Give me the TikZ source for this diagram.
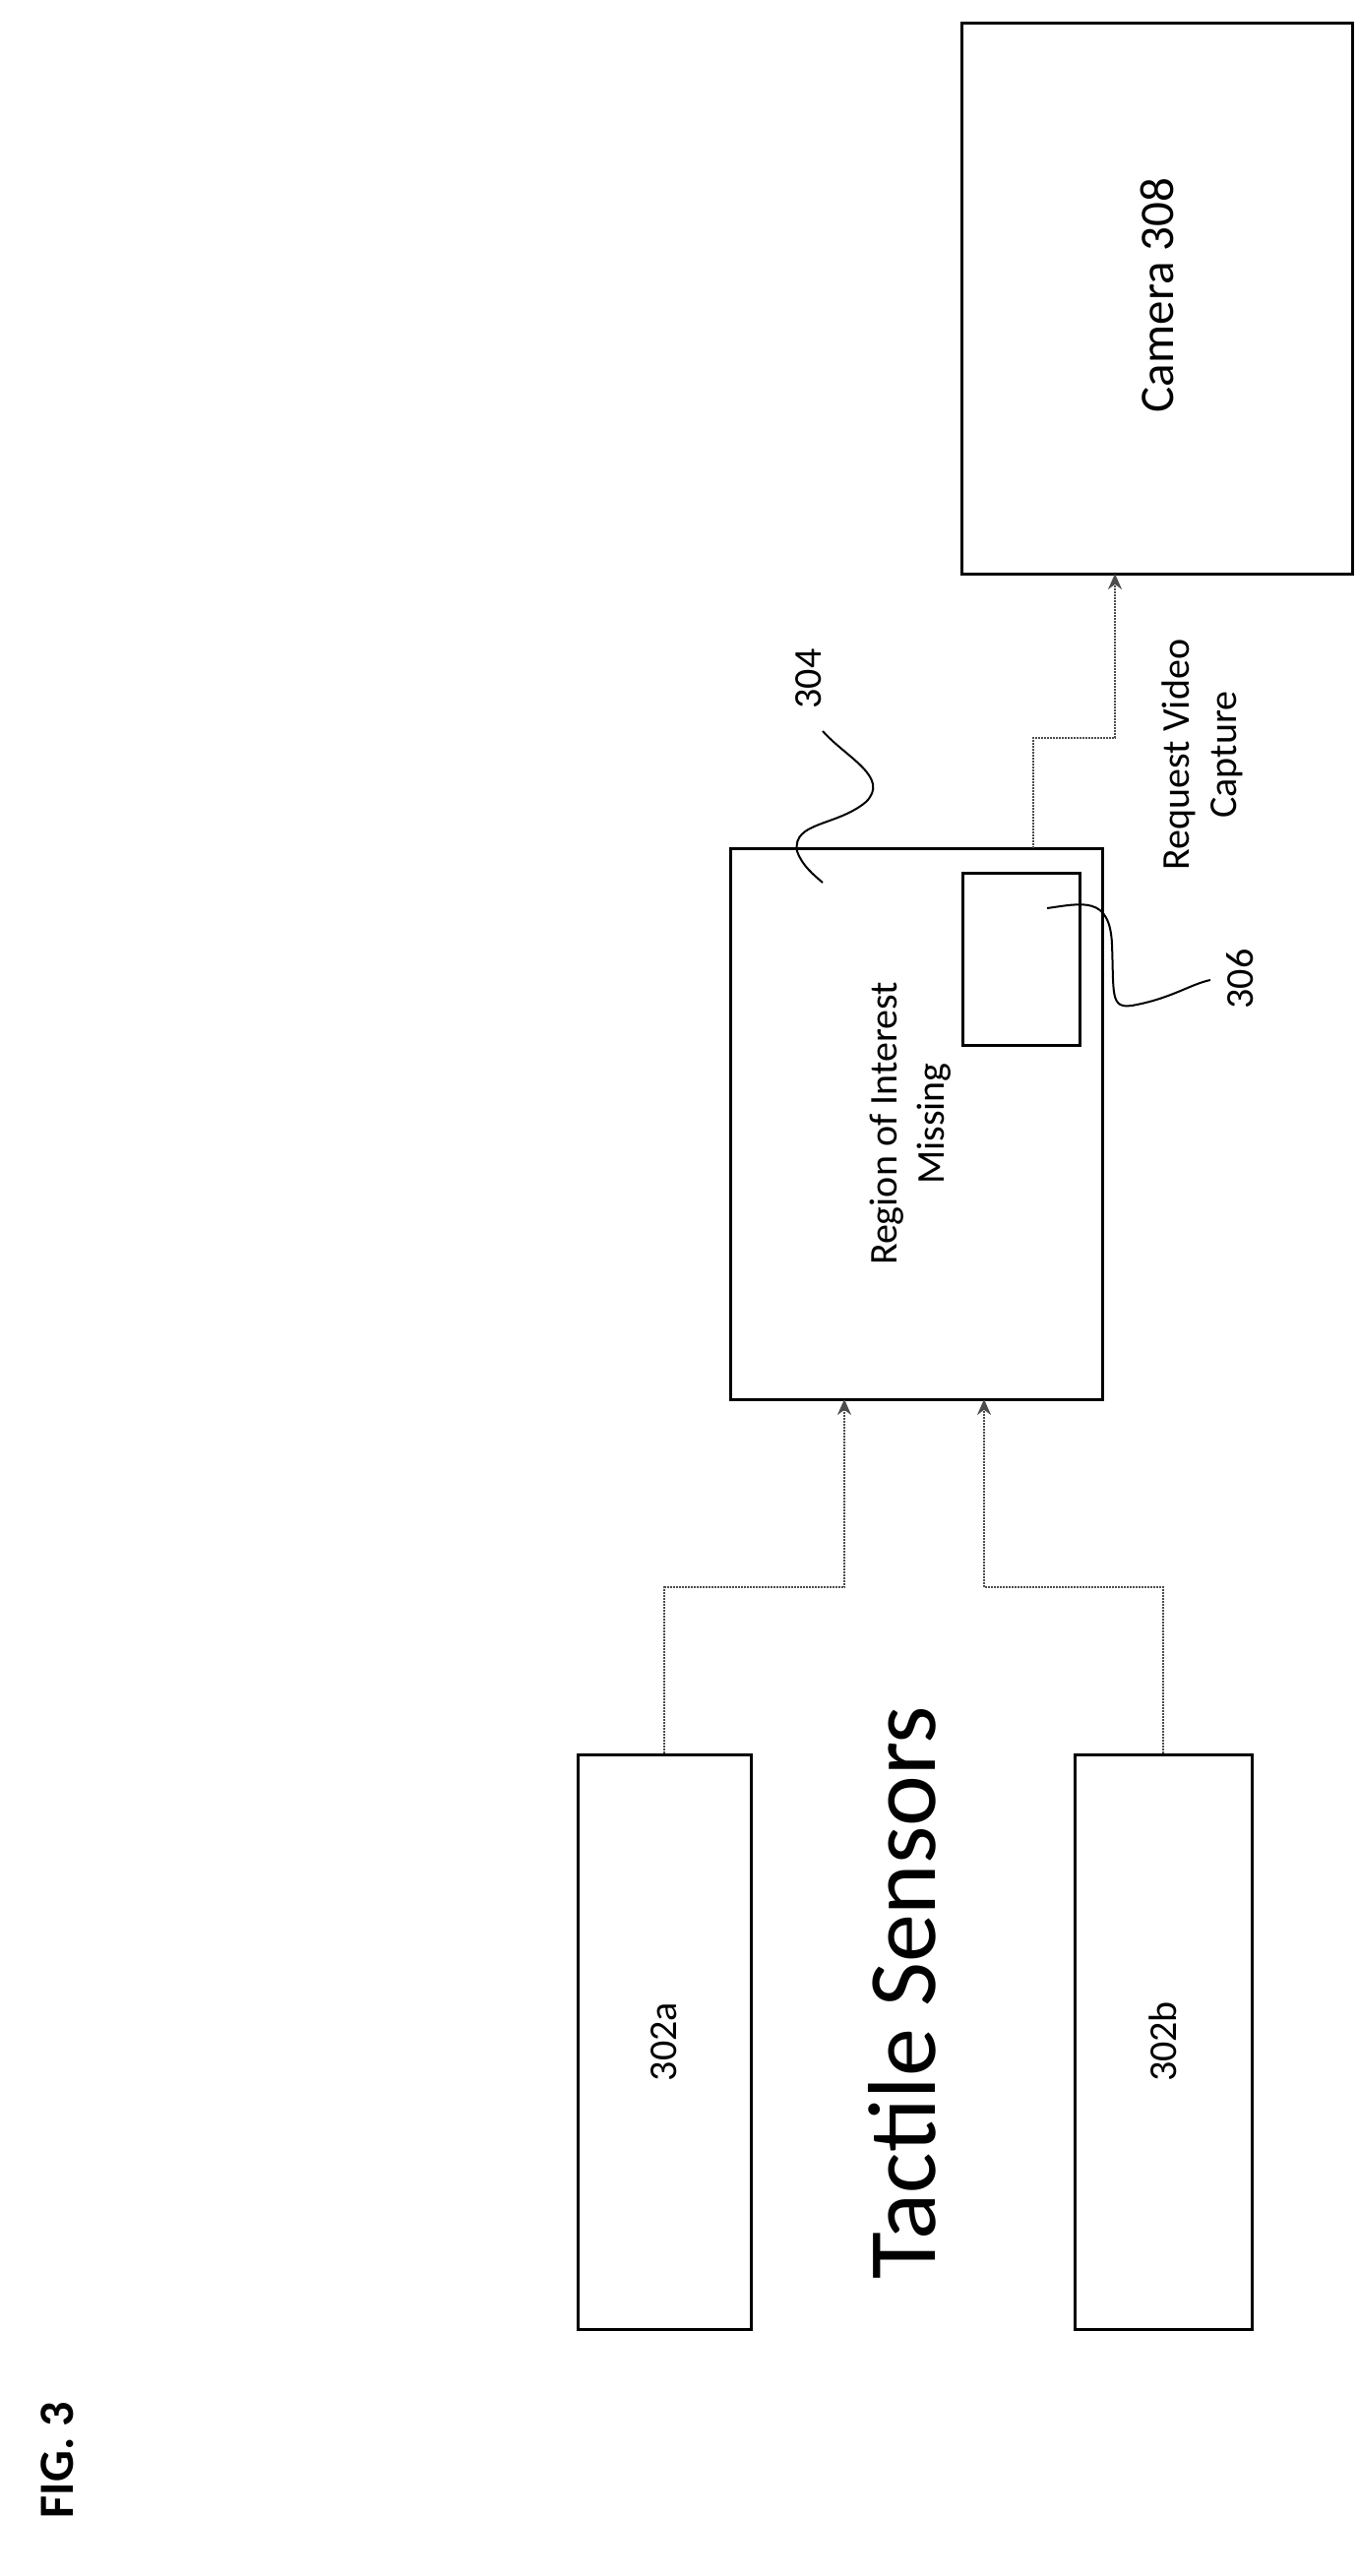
\documentclass[tikz,border=0pt]{standalone}
\usepackage{fontspec}
\setmainfont{Carlito}
\usetikzlibrary{arrows.meta}
\usetikzlibrary{positioning}
\begin{document}
\begin{tikzpicture}[x=1pt,y=-1pt]
\tikzset{
    boxNode/.style={
                   draw,
                   line width=3pt,
                   inner sep=0pt
    },
    textNode/.style={
                   rotate=90,
                   font=\fontsize{40}{48}\selectfont,
                   align=center
    },
    link/.style={
                   densely dotted,
                   line width=2pt,
                   draw=black!70
    },
    tip/.style={
                   -{Stealth[length=16pt,width=14pt]}
    }
}
    \useasboundingbox (0,0) rectangle (1380,2618);
    \node (cam)[boxNode, minimum width=397pt, minimum height=560pt] at (1176,303) {};
    \node (camT)[textNode, font=\fontsize{49}{58}\selectfont] at (1176,300) {Camera 308};
    \node (roi)[boxNode, minimum width=378pt, minimum height=560pt] at (931,1142) {};
    \node (roiT)[textNode] at (925,1142) {Region of Interest\\Missing};
    \node (sub)[boxNode, minimum width=119pt, minimum height=175pt] at (1038,975) {};
    \node (sa)[boxNode, minimum width=176pt, minimum height=584pt] at (675,2075) {};
    \node (saT)[textNode] at (675,2075) {302a};
    \node (sb)[boxNode, minimum width=180pt, minimum height=584pt] at (1182,2075) {};
    \node (sbT)[textNode] at (1182,2075) {302b};
    \node (tact)[textNode, font=\fontsize{98}{110}\selectfont] at (917,2025) {Tactile Sensors};
    \node (fig)[textNode, font=\bfseries\fontsize{50}{60}\selectfont] at (58,2500) {FIG. 3};
    \node (req)[textNode] at (1222,767) {Request Video\\Capture};
    \node (l304)[textNode] at (822,690) {304};
    \node (l306)[textNode] at (1260,995) {306};

    \draw[link, tip] (sa.north) |- (858,1613) -- (858,1422);
    \draw[link, tip] (sb.north) |- (1000,1613) -- (1000,1422);
    \draw[link, tip] (1050,862) |- (1133,750) -- (1133,583);

    \draw[line width=2pt] (836,743) .. controls (860,770) and (905,790) .. (880,815)
        .. controls (850,840) and (805,835) .. (810,865) .. controls (815,880) and (828,890) .. (836,897);
    \draw[line width=2pt] (1064,923) .. controls (1100,918) and (1128,910) .. (1130,960)
        .. controls (1132,1010) and (1128,1025) .. (1150,1022) .. controls (1190,1015) and (1210,1000) .. (1230,996);
\end{tikzpicture}
\end{document}
